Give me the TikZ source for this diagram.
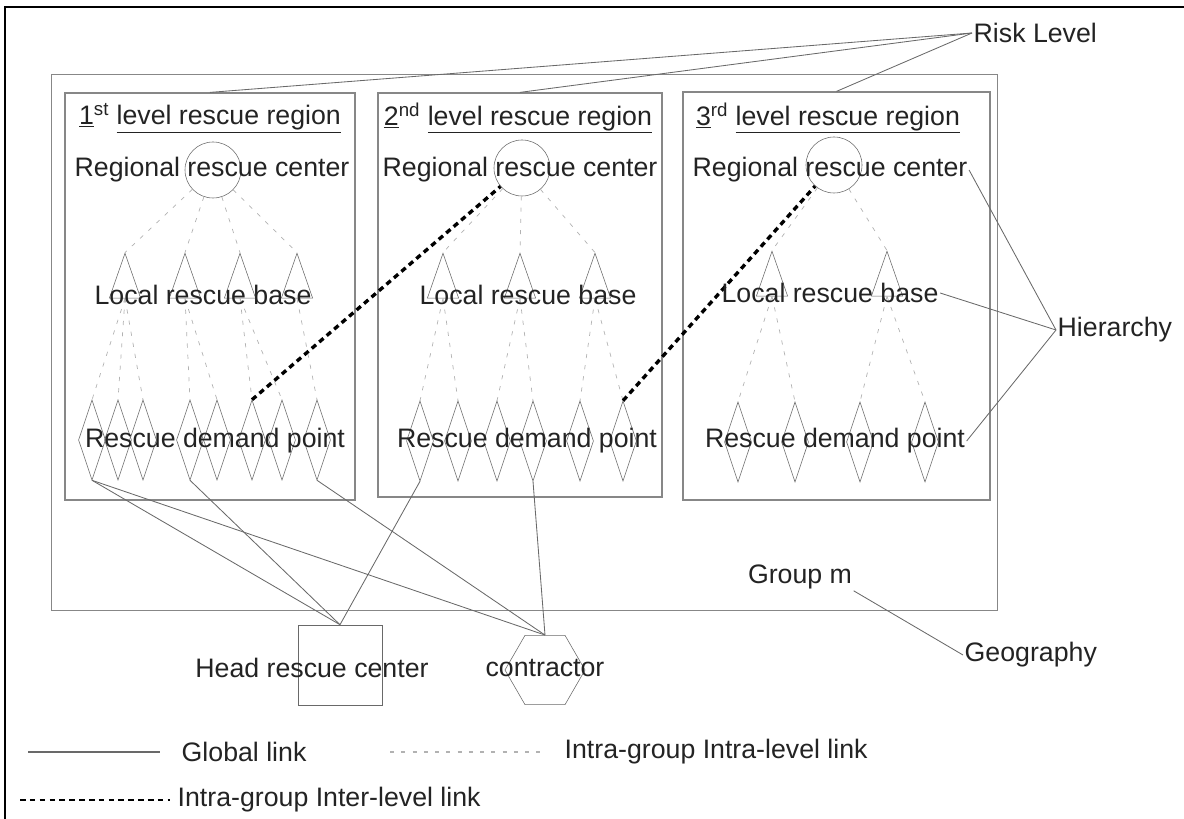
\documentclass[tikz,border=0pt]{standalone}
\usepackage{fontspec}
\setmainfont{Liberation Sans}
\usetikzlibrary{shapes.geometric,positioning}
\definecolor{boxgray}{RGB}{135,135,135}
\definecolor{linkgray}{RGB}{105,105,105}
\definecolor{txtcol}{RGB}{35,35,35}

\begin{document}
\begin{tikzpicture}[x=0.025cm, y=-0.025cm,
    every node/.style={font=\fontsize{19}{22}\selectfont, text=txtcol},
    ctr/.style={circle, draw=linkgray, minimum size=1.4cm, inner sep=0pt},
    bas/.style={isosceles triangle, isosceles triangle stretches,
                shape border rotate=90, draw=linkgray, inner sep=0pt,
                minimum width=0.78cm, minimum height=1.12cm},
    dmd/.style={diamond, draw=linkgray, minimum width=0.675cm,
                minimum height=2cm, inner sep=0pt},
    rbox/.style={rectangle, draw=boxgray, line width=0.8pt, inner sep=0pt},
    sq/.style={rectangle, draw=linkgray, minimum width=2.1cm, minimum height=2cm},
    hx/.style={regular polygon, regular polygon sides=6, draw=linkgray,
               minimum size=2cm, inner sep=0pt},
    lb/.style={inner sep=1pt},
    gl/.style={linkgray, line width=0.6pt},
    il/.style={black!30, line width=0.5pt, dash pattern=on 3pt off 5pt},
    xl/.style={black, line width=2.4pt, dash pattern=on 4pt off 3pt}
  ]
  \useasboundingbox (0,0) rectangle (1184,819);
  % frame
  \draw[black, line width=1.2pt] (5,819) -- (5,7) -- (1184,7);
  % group and regions
  \node[rbox, minimum width=23.625cm, minimum height=13.375cm] (grp) at (524.5,342.5) {};
  \node[rbox, minimum width=7.25cm, minimum height=10.175cm] (reg1) at (210,296.5) {};
  \node[rbox, minimum width=7.1cm, minimum height=10.1cm] (reg2) at (520,295) {};
  \node[rbox, minimum width=7.675cm, minimum height=10.2cm] (reg3) at (836.5,296) {};
  % regional rescue centers
  \node[ctr] (c1) at (213,170) {};
  \node[ctr] (c2) at (522,168) {};
  \node[ctr] (c3) at (834,165) {};
  % local rescue bases
  \node[bas] (b11) at (125,287) {};
  \node[bas] (b12) at (185,287) {};
  \node[bas] (b13) at (240,287) {};
  \node[bas] (b14) at (297,287) {};
  \node[bas] (b21) at (443,287) {};
  \node[bas] (b22) at (520,287) {};
  \node[bas] (b23) at (595,287) {};
  \node[bas] (b31) at (772,285) {};
  \node[bas] (b32) at (887,285) {};
  % rescue demand points
  \node[dmd] (d11) at (92,440) {};
  \node[dmd] (d12) at (118,440) {};
  \node[dmd] (d13) at (143,440) {};
  \node[dmd] (d14) at (190,440) {};
  \node[dmd] (d15) at (217,440) {};
  \node[dmd] (d16) at (252,440) {};
  \node[dmd] (d17) at (282,440) {};
  \node[dmd] (d18) at (317,440) {};
  \node[dmd] (d21) at (420,441) {};
  \node[dmd] (d22) at (458,441) {};
  \node[dmd] (d23) at (497,441) {};
  \node[dmd] (d24) at (533,441) {};
  \node[dmd] (d25) at (580,441) {};
  \node[dmd] (d26) at (623,441) {};
  \node[dmd] (d31) at (738,442) {};
  \node[dmd] (d32) at (795,442) {};
  \node[dmd] (d33) at (860,442) {};
  \node[dmd] (d34) at (925,442) {};
  % head rescue center and contractor
  \node[sq] (hrc) at (340,665) {};
  \node[hx] (con) at (545,670) {};
  % intra-group intra-level links
  \draw[il] (c1) -- (b11.apex); \draw[il] (c1) -- (b12.apex);
  \draw[il] (c1) -- (b13.apex); \draw[il] (c1) -- (b14.apex);
  \draw[il] (c2) -- (b21.apex); \draw[il] (c2) -- (b22.apex);
  \draw[il] (c2) -- (b23.apex);
  \draw[il] (c3) -- (b31.apex); \draw[il] (c3) -- (b32.apex);
  \draw[il] (b11.south) -- (d11.north); \draw[il] (b11.south) -- (d12.north);
  \draw[il] (b11.south) -- (d13.north);
  \draw[il] (b12.south) -- (d14.north); \draw[il] (b12.south) -- (d15.north);
  \draw[il] (b13.south) -- (d16.north); \draw[il] (b13.south) -- (d17.north);
  \draw[il] (b14.south) -- (d18.north);
  \draw[il] (b21.south) -- (d21.north); \draw[il] (b21.south) -- (d22.north);
  \draw[il] (b22.south) -- (d23.north); \draw[il] (b22.south) -- (d24.north);
  \draw[il] (b23.south) -- (d25.north); \draw[il] (b23.south) -- (d26.north);
  \draw[il] (b31.south) -- (d31.north); \draw[il] (b31.south) -- (d32.north);
  \draw[il] (b32.south) -- (d33.north); \draw[il] (b32.south) -- (d34.north);
  % intra-group inter-level links
  \draw[xl] (d16.north) -- (c2);
  \draw[xl] (d26.north) -- (c3);
  % global links
  \draw[gl] (d11.south) -- (hrc.north); \draw[gl] (d11.south) -- (con.north);
  \draw[gl] (d14.south) -- (hrc.north); \draw[gl] (d18.south) -- (con.north);
  \draw[gl] (d21.south) -- (hrc.north); \draw[gl] (d24.south) -- (con.north);
  % texts
  \node[lb] (t1) at (210,118) {\underline{1}\textsuperscript{st} \underline{level rescue region}};
  \node[lb] (t2) at (518,118) {\underline{2}\textsuperscript{nd} \underline{level rescue region}};
  \node[lb] (t3) at (828,118) {\underline{3}\textsuperscript{rd} \underline{level rescue region}};
  \node[lb] (rc1) at (212,170) {Regional rescue center};
  \node[lb] (rc2) at (520,170) {Regional rescue center};
  \node[lb] (rc3) at (830,170) {Regional rescue center};
  \node[lb] (lr1) at (203,295) {Local rescue base};
  \node[lb] (lr2) at (528,295) {Local rescue base};
  \node[lb] (lr3) at (830,293) {Local rescue base};
  \node[lb] (dp1) at (215,441) {Rescue demand point};
  \node[lb] (dp2) at (527,441) {Rescue demand point};
  \node[lb] (dp3) at (835,441) {Rescue demand point};
  \node[lb] (gm) at (800,577) {Group m};
  \node[lb] (hrct) at (312,668) {Head rescue center};
  \node[lb] (cont) at (545,668) {contractor};
  % side labels
  \node[lb, anchor=west] (risk) at (972,33) {Risk Level};
  \node[lb, anchor=west] (hier) at (1056,330) {Hierarchy};
  \node[lb, anchor=west] (geo) at (963,655) {Geography};
  \draw[gl] (risk.west) -- (reg1.north);
  \draw[gl] (risk.west) -- (reg2.north);
  \draw[gl] (risk.west) -- (reg3.north);
  \draw[gl] (hier.west) -- (rc3.east);
  \draw[gl] (hier.west) -- (lr3.east);
  \draw[gl] (hier.west) -- (dp3.east);
  \draw[gl] (geo.west) -- (gm.south east);
  % legend
  \coordinate (g1) at (28,752);  \coordinate (g2) at (160,752);
  \coordinate (i1) at (390,752); \coordinate (i2) at (545,752);
  \coordinate (x1) at (20,800);  \coordinate (x2) at (170,800);
  \draw[gl, line width=1pt] (g1) -- (g2);
  \draw[il, line width=0.8pt] (i1) -- (i2);
  \draw[xl, line width=1.8pt] (x1) -- (x2);
  \node[lb, anchor=west] (lg1) at (180,752) {Global link};
  \node[lb, anchor=west] (lg2) at (563,752) {Intra-group Intra-level link};
  \node[lb, anchor=west] (lg3) at (176,800) {Intra-group Inter-level link};
\end{tikzpicture}
\end{document}
